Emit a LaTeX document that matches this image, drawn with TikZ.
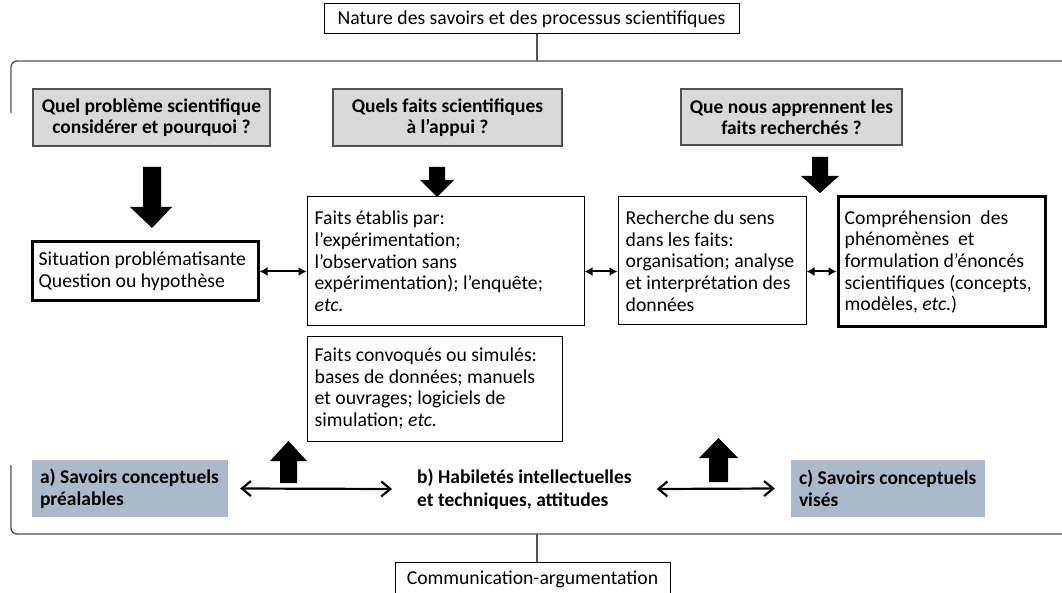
\documentclass[tikz,border=0pt]{standalone}
\usepackage{fontspec}
\setmainfont{Carlito}
\usetikzlibrary{arrows.meta,calc}
\definecolor{qgray}{HTML}{D9D9D9}
\definecolor{bluegray}{HTML}{ACB9CA}
\definecolor{linegray}{HTML}{505050}
\tikzset{
  every node/.style={font=\fontsize{19.7}{21.7}\selectfont},
  plainbox/.style={draw=black, line width=1pt, rectangle, inner sep=0pt},
  thickbox/.style={draw=black, line width=3pt, rectangle, inner sep=0pt},
  qbox/.style={draw=linegray, fill=qgray, line width=1.2pt, rectangle, inner sep=0pt, align=center, font=\fontsize{19.5}{21}\selectfont\bfseries},
  kbox/.style={fill=bluegray, rectangle, inner sep=0pt},
  intext/.style={anchor=west, inner sep=0pt, align=left},
  kbtext/.style={anchor=west, inner sep=0pt, align=left, font=\fontsize{19.5}{22}\selectfont\bfseries},
  bracket/.style={draw=linegray, line width=1.3pt, rounded corners=6pt},
  dbl/.style={line width=2pt, {Latex[length=8pt,width=9pt]}-{Latex[length=8pt,width=9pt]}},
  dblopen/.style={line width=2.2pt, {Straight Barb[length=9pt,width=15pt]}-{Straight Barb[length=9pt,width=15pt]}},
  blockarrow/.style={fill=black, draw=none},
}
\begin{document}
\begin{tikzpicture}[x=1pt,y=-1pt]
\useasboundingbox (0,0) rectangle (1062,593);

% top and bottom labels
\node[plainbox, minimum width=415pt, minimum height=30pt, align=center] (top) at (531.5,19) {Nature des savoirs et des processus scientifiques};
\node[plainbox, minimum width=275pt, minimum height=34pt, align=center] (comm) at (532.5,579) {Communication-argumentation};

% brackets
\coordinate (tb) at (537,61);
\coordinate (bb) at (537,534);
\draw[bracket] (1062,61) -- (11,61) -- (11,113);
\draw[bracket] (11,465) -- (11,534) -- (1062,534);
\draw[linegray, line width=1.2pt] (top.south -| tb) -- (tb);
\draw[linegray, line width=1.2pt] (bb) -- (comm.north -| bb);

% question boxes
\node[qbox, minimum width=237pt, minimum height=57pt] (q1) at (151.5,117.5) {Quel problème scientifique\\considérer et pourquoi ?};
\node[qbox, minimum width=229pt, minimum height=57pt] (q2) at (447.5,117.5) {Quels faits scientifiques\\à l’appui ?};
\node[qbox, minimum width=221pt, minimum height=56pt] (q3) at (791.5,117) {Que nous apprennent les\\faits recherchés ?};

% middle boxes
\node[thickbox, minimum width=226pt, minimum height=59pt] (sit) at (145,271.5) {};
\node[intext] (sitt) at ([xshift=8pt]sit.west) {Situation problématisante\\Question ou hypothèse};
\node[plainbox, minimum width=277pt, minimum height=129pt] (fe) at (445.5,261.5) {};
\node[intext] (fet) at ([xshift=8pt]fe.west) {Faits établis par:\\l’expérimentation;\\l’observation sans\\expérimentation); l’enquête;\\\textit{etc.}};
\node[plainbox, minimum width=188pt, minimum height=128pt] (rs) at (712,261) {};
\node[intext] (rst) at ([xshift=8pt]rs.west) {Recherche du sens\\dans les faits:\\organisation; analyse\\et interprétation des\\données};
\node[thickbox, minimum width=207pt, minimum height=130pt] (cp) at (941.5,262) {};
\node[intext] (cpt) at ([xshift=8pt]cp.west) {Compréhension\ \ des\\phénomènes\ \ et\\formulation\ d’énoncés\\scientifiques (concepts,\\modèles, \textit{etc.})};
\node[plainbox, minimum width=255pt, minimum height=105pt] (fc) at (434.5,388.5) {};
\node[intext] (fct) at ([xshift=8pt]fc.west) {Faits convoqués ou simulés:\\bases de données; manuels\\et ouvrages; logiciels de\\simulation; \textit{etc.}};

% bottom row
\node[kbox, minimum width=196pt, minimum height=57pt] (ka) at (130,488.5) {};
\node[kbtext] (kat) at ([xshift=8pt]ka.west) {a) Savoirs conceptuels\\préalables};
\node[kbox, minimum width=194pt, minimum height=57pt] (kc) at (888,488.5) {};
\node[kbtext] (kct) at ([xshift=8pt]kc.west) {c) Savoirs conceptuels\\visés};
\node[kbtext, font=\fontsize{19.5}{23}\selectfont\bfseries] (kb) at (417,489) {b) Habiletés intellectuelles\\et techniques, attitudes};

% small double arrows
\draw[dbl] (sit.east) -- (sit.east -| fe.west);
\draw[dbl] (fe.east |- sit.east) -- (rs.west |- sit.east);
\draw[dbl] (rs.east |- sit.east) -- (cp.west |- sit.east);

% bottom double arrows
\draw[dblopen] ([xshift=12pt]ka.east) -- ([xshift=-25pt]kb.west);
\draw[dblopen] ([xshift=25pt]kb.east) -- ([xshift=-16pt]kc.west);

% block arrows down
\fill[blockarrow] (143,167) -- (161,167) -- (161,207) -- (172,207) -- (152,228) -- (130,207) -- (143,207) -- cycle;
\fill[blockarrow] (429,167) -- (445,167) -- (445,180) -- (454,180) -- (437,197) -- (420,180) -- (429,180) -- cycle;
\fill[blockarrow] (812,157) -- (828,157) -- (828,176) -- (839,176) -- (820,193) -- (801,176) -- (812,176) -- cycle;

% block arrows up
\fill[blockarrow] (280,483) -- (297,483) -- (297,461) -- (307,461) -- (288.5,441) -- (270,461) -- (280,461) -- cycle;
\fill[blockarrow] (709,482) -- (728,482) -- (728,458) -- (738,458) -- (718.5,438) -- (699,458) -- (709,458) -- cycle;
\end{tikzpicture}
\end{document}
